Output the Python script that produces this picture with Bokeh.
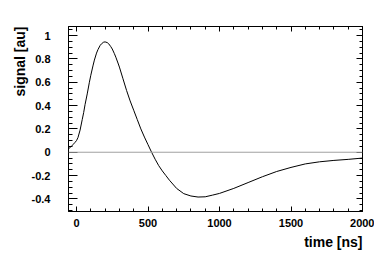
from bokeh.plotting import figure
from bokeh.models import (LinearAxis, FixedTicker, Span, Title, Range1d,
                          CustomJSTickFormatter)
from bokeh.embed import file_html
from bokeh.resources import INLINE

# --- data ---
time_ns = [-56, -40, -25, -10, 0, 10, 25, 40, 50, 60, 75, 90, 100, 115, 125, 140,
           150, 165, 175, 190, 200, 215, 225, 240, 250, 265, 275, 290, 300, 325,
           350, 375, 400, 425, 450, 475, 500, 525, 550, 575, 600, 625, 650,
           700, 750, 800, 850, 900, 950, 1000, 1100, 1200, 1300, 1400, 1500,
           1600, 1700, 1800, 1900, 2000]
signal = [0.03, 0.045, 0.065, 0.085, 0.10, 0.125, 0.19, 0.28, 0.34, 0.41, 0.50,
          0.60, 0.66, 0.74, 0.79, 0.85, 0.88, 0.915, 0.93, 0.944, 0.946, 0.94,
          0.93, 0.905, 0.885, 0.845, 0.815, 0.765, 0.73, 0.63, 0.53, 0.44,
          0.36, 0.28, 0.20, 0.13, 0.065, 0.0, -0.06, -0.115, -0.16, -0.20,
          -0.24, -0.31, -0.355, -0.375, -0.384, -0.382, -0.368, -0.353, -0.31,
          -0.26, -0.21, -0.165, -0.13, -0.10, -0.082, -0.07, -0.061, -0.05]

x_ticks = [0, 500, 1000, 1500, 2000]
x_minor = [-100, 100, 200, 300, 400, 600, 700, 800, 900, 1100, 1200, 1300, 1400,
           1600, 1700, 1800, 1900]
y_ticks = [-0.4, -0.2, 0, 0.2, 0.4, 0.6, 0.8, 1.0]
y_tick_labels = ["-0.4", "-0.2", "0", "0.2", "0.4", "0.6", "0.8", "1"]
y_minor = [-0.5, -0.45, -0.35, -0.3, -0.25, -0.15, -0.1, -0.05, 0.05, 0.1, 0.15,
           0.25, 0.3, 0.35, 0.45, 0.5, 0.55, 0.65, 0.7, 0.75, 0.85, 0.9, 0.95,
           1.05]

FONT = "Liberation Sans"

p = figure(width=374, height=251, output_backend="svg", toolbar_location=None,
           x_range=Range1d(-56, 2000), y_range=Range1d(-0.508, 1.078),
           min_border_left=68, min_border_right=12, min_border_top=26,
           min_border_bottom=40)
p.grid.visible = False
p.outline_line_color = "black"
p.outline_line_width = 1

xt = FixedTicker(ticks=x_ticks, minor_ticks=x_minor)
yt = FixedTicker(ticks=y_ticks, minor_ticks=y_minor)

for ax in p.xaxis:
    ax.ticker = xt
    ax.major_tick_in = 5
    ax.major_tick_out = 0
    ax.minor_tick_in = 3
    ax.minor_tick_out = 0
    ax.major_label_standoff = 7
    ax.major_label_text_font = FONT
    ax.major_label_text_font_style = "bold"
    ax.major_label_text_font_size = "11px"
    ax.major_label_text_color = "black"
    ax.axis_line_color = "black"
    ax.major_tick_line_color = "black"
    ax.minor_tick_line_color = "black"

for ax in p.yaxis:
    ax.ticker = yt
    ax.major_label_overrides = {t: l for t, l in zip(y_ticks, y_tick_labels)}
    ax.major_tick_in = 9
    ax.major_tick_out = 0
    ax.minor_tick_in = 4
    ax.minor_tick_out = 0
    ax.major_label_standoff = 18
    ax.major_label_text_font = FONT
    ax.major_label_text_font_style = "bold"
    ax.major_label_text_font_size = "11px"
    ax.major_label_text_color = "black"
    ax.axis_line_color = "black"
    ax.major_tick_line_color = "black"
    ax.minor_tick_line_color = "black"

blank = CustomJSTickFormatter(code="return '';")
top = LinearAxis(ticker=xt, formatter=blank, major_tick_in=5, major_tick_out=0,
                 minor_tick_in=3, minor_tick_out=0, major_label_standoff=0,
                 axis_line_color="black")
right = LinearAxis(ticker=yt, formatter=blank, major_tick_in=6, major_tick_out=0,
                   minor_tick_in=3, minor_tick_out=0, major_label_standoff=0,
                   axis_line_color="black")
p.add_layout(top, "above")
p.add_layout(right, "right")

p.add_layout(Span(location=0, dimension="width", line_color="#a0a0a0",
                  line_width=1))
p.line(time_ns, signal, line_color="black", line_width=1.0)

xlab = Title(text="time [ns]", align="right", text_font=FONT,
             text_font_style="bold", text_font_size="14px", standoff=4,
             text_color="black")
p.add_layout(xlab, "below")
ylab = Title(text="signal [au]", align="right", text_font=FONT,
             text_font_style="bold", text_font_size="14px", standoff=2,
             text_color="black")
p.add_layout(ylab, "left")

open("out.html", "w").write(file_html(p, INLINE))
